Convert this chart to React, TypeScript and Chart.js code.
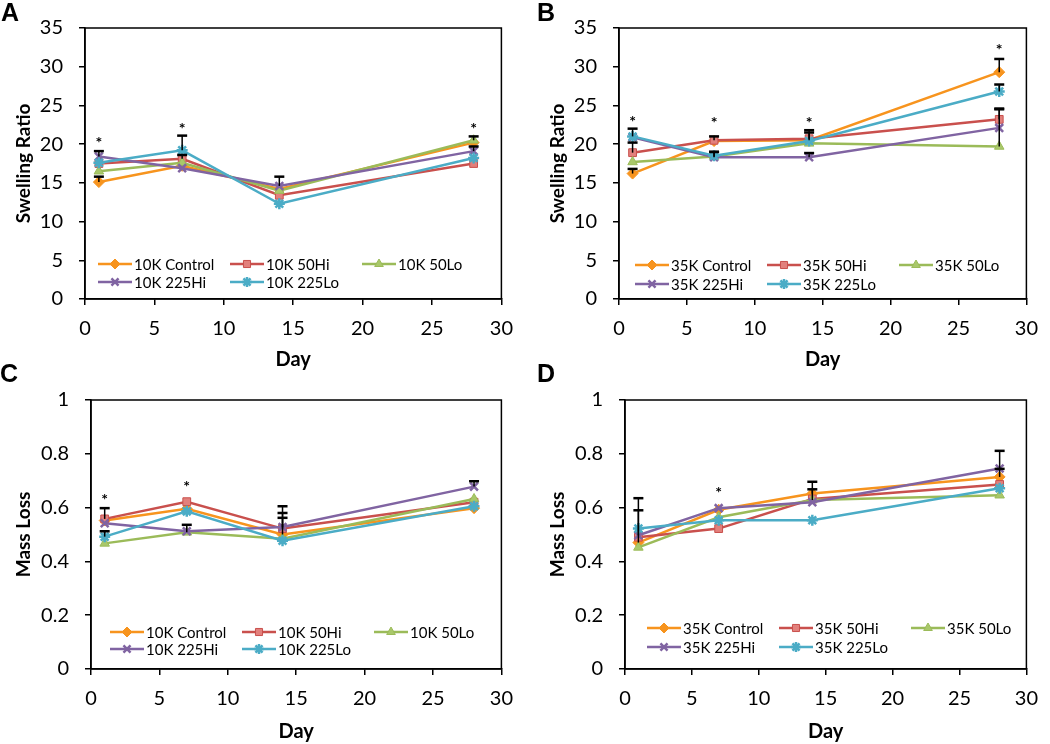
import React, { useEffect, useRef } from "react";
import { Chart, registerables } from "chart.js";
import { drawPoint } from "chart.js/helpers";

Chart.register(...registerables);

// ---------- shared ----------
const days = [1, 7, 14, 28];
const groups = ["Control", "50Hi", "50Lo", "225Hi", "225Lo"];
const names10K = groups.map((g) => "10K " + g);
const names35K = groups.map((g) => "35K " + g);
const xTickStep = 5;

// ---------- Panel A: Swelling ratio, 10K ----------
const swell10Control = [15.1, 17.2, 14.2, 20.2];
const swell10Hi50 = [17.5, 18.1, 13.4, 17.5];
const swell10Lo50 = [16.5, 17.6, 14.0, 20.5];
const swell10Hi225 = [18.4, 16.9, 14.6, 19.1];
const swell10Lo225 = [17.6, 19.2, 12.3, 18.2];
const swell10ControlErr = [0.7, 0, 0, 0];
const swell10Hi50Err = [0, 0.5, 0, 0];
const swell10Lo50Err = [0, 0, 0, 0.5];
const swell10Hi225Err = [0.7, 0, 1.2, 0.6];
const swell10Lo225Err = [0, 1.9, 0, 0];
const starDaysA = [1, 7, 28];
const starValsA = [20.5, 22.4, 22.4];

// ---------- Panel B: Swelling ratio, 35K ----------
const swell35Control = [16.2, 20.4, 20.5, 29.3];
const swell35Hi50 = [18.9, 20.5, 20.7, 23.2];
const swell35Lo50 = [17.7, 18.4, 20.1, 19.7];
const swell35Hi225 = [20.9, 18.3, 18.3, 22.1];
const swell35Lo225 = [21.0, 18.5, 20.4, 26.8];
const swell35ControlErr = [0.6, 0, 1.0, 1.7];
const swell35Hi50Err = [1.3, 0.5, 1.1, 1.4];
const swell35Lo50Err = [0, 0.6, 0, 4.8];
const swell35Hi225Err = [0, 0.7, 0.55, 0];
const swell35Lo225Err = [1.0, 0, 0, 0.9];
const starDaysB = [1, 7, 14, 28];
const starValsB = [23.3, 23.1, 23.2, 32.6];

// ---------- Panel C: Mass loss, 10K ----------
const mass10Control = [0.552, 0.596, 0.5, 0.598];
const mass10Hi50 = [0.558, 0.622, 0.522, 0.62];
const mass10Lo50 = [0.467, 0.508, 0.484, 0.632];
const mass10Hi225 = [0.542, 0.512, 0.528, 0.678];
const mass10Lo225 = [0.492, 0.586, 0.477, 0.605];
const mass10ControlErr = [0, 0, 0.08, 0];
const mass10Hi50Err = [0.04, 0, 0.04, 0];
const mass10Lo50Err = [0, 0.028, 0, 0];
const mass10Hi225Err = [0, 0, 0.077, 0.02];
const mass10Lo225Err = [0.02, 0, 0, 0];
const starDaysC = [1, 7];
const starValsC = [0.641, 0.689];

// ---------- Panel D: Mass loss, 35K ----------
const mass35Control = [0.47, 0.592, 0.652, 0.714];
const mass35Hi50 = [0.49, 0.522, 0.632, 0.686];
const mass35Lo50 = [0.452, 0.564, 0.628, 0.646];
const mass35Hi225 = [0.497, 0.598, 0.62, 0.745];
const mass35Lo225 = [0.522, 0.553, 0.553, 0.672];
const mass35ControlErr = [0.12, 0, 0.044, 0.03];
const mass35Hi50Err = [0, 0, 0, 0];
const mass35Lo50Err = [0, 0, 0.04, 0];
const mass35Hi225Err = [0.138, 0, 0, 0.066];
const mass35Lo225Err = [0, 0, 0, 0];
const starDaysD = [7];
const starValsD = [0.665];

// ---------- styles ----------
const lineColors = ["#F7941E", "#C9504D", "#9BBB59", "#8064A2", "#4BACC6"];
const fillColors = ["#F7941E", "#E2807C", "#A9C86A", "#8F74B0", "#5DB8D0"];
const pointStyles = ["rectRot", "rect", "triangle", "crossRot", "star"];
const FONT = "Lato, 'Open Sans', sans-serif";

type PanelCfg = {
  left: number;
  top: number;
  series: number[][];
  errors: number[][];
  names: string[];
  starDays: number[];
  starVals: number[];
  yMax: number;
  yStep: number;
  yTitle: string;
  yAxisWidth: number;
  yTitlePad: number;
  padTop: number;
  padRight: number;
  xAxisHeight: number;
  legendX: number;
  legendRows: number[];
};

const W = 525;
const H = 372;

const panels: PanelCfg[] = [
  {
    left: 0, top: 0,
    series: [swell10Control, swell10Hi50, swell10Lo50, swell10Hi225, swell10Lo225],
    errors: [swell10ControlErr, swell10Hi50Err, swell10Lo50Err, swell10Hi225Err, swell10Lo225Err],
    names: names10K, starDays: starDaysA, starVals: starValsA,
    yMax: 35, yStep: 5, yTitle: "Swelling Ratio",
    yAxisWidth: 85, yTitlePad: 12, padTop: 23, padRight: 23, xAxisHeight: 73,
    legendX: 13, legendRows: [35, 17],
  },
  {
    left: 525, top: 0,
    series: [swell35Control, swell35Hi50, swell35Lo50, swell35Hi225, swell35Lo225],
    errors: [swell35ControlErr, swell35Hi50Err, swell35Lo50Err, swell35Hi225Err, swell35Lo225Err],
    names: names35K, starDays: starDaysB, starVals: starValsB,
    yMax: 35, yStep: 5, yTitle: "Swelling Ratio",
    yAxisWidth: 94, yTitlePad: 21, padTop: 23, padRight: 19, xAxisHeight: 73,
    legendX: 16, legendRows: [34, 15],
  },
  {
    left: 0, top: 372,
    series: [mass10Control, mass10Hi50, mass10Lo50, mass10Hi225, mass10Lo225],
    errors: [mass10ControlErr, mass10Hi50Err, mass10Lo50Err, mass10Hi225Err, mass10Lo225Err],
    names: names10K, starDays: starDaysC, starVals: starValsC,
    yMax: 1, yStep: 0.2, yTitle: "Mass Loss",
    yAxisWidth: 91, yTitlePad: 12, padTop: 19, padRight: 23, xAxisHeight: 75,
    legendX: 19, legendRows: [37, 20],
  },
  {
    left: 525, top: 372,
    series: [mass35Control, mass35Hi50, mass35Lo50, mass35Hi225, mass35Lo225],
    errors: [mass35ControlErr, mass35Hi50Err, mass35Lo50Err, mass35Hi225Err, mass35Lo225Err],
    names: names35K, starDays: starDaysD, starVals: starValsD,
    yMax: 1, yStep: 0.2, yTitle: "Mass Loss",
    yAxisWidth: 100, yTitlePad: 21, padTop: 19, padRight: 19, xAxisHeight: 75,
    legendX: 22, legendRows: [41, 22],
  },
];

const letters = [
  { t: "A", x: 1, y: 0 },
  { t: "B", x: 537, y: 0 },
  { t: "C", x: 0, y: 361 },
  { t: "D", x: 537, y: 361 },
];

function makeExtras(p: PanelCfg) {
  return {
    id: "panelExtras",
    beforeDatasetsDraw(chart: any) {
      const { ctx, chartArea } = chart;
      ctx.save();
      ctx.strokeStyle = "#000";
      ctx.lineWidth = 1.5;
      ctx.strokeRect(chartArea.left, chartArea.top, chartArea.right - chartArea.left, chartArea.bottom - chartArea.top);
      ctx.restore();
    },
    afterDatasetsDraw(chart: any) {
      const { ctx, chartArea, scales } = chart;
      const xs = scales.x;
      const ys = scales.y;
      ctx.save();
      // error bars (plus only)
      ctx.strokeStyle = "#000";
      p.series.forEach((vals, si) => {
        vals.forEach((v, i) => {
          const e = p.errors[si][i];
          if (!e) return;
          const x = xs.getPixelForValue(days[i]);
          const y0 = ys.getPixelForValue(v);
          const y1 = ys.getPixelForValue(v + e);
          ctx.lineWidth = 1.5;
          ctx.beginPath();
          ctx.moveTo(x, y0);
          ctx.lineTo(x, y1);
          ctx.stroke();
          ctx.lineWidth = 2.5;
          ctx.beginPath();
          ctx.moveTo(x - 5, y1);
          ctx.lineTo(x + 5, y1);
          ctx.stroke();
        });
      });
      // significance stars
      ctx.fillStyle = "#000";
      ctx.font = "bold 16px " + FONT;
      ctx.textAlign = "center";
      ctx.textBaseline = "middle";
      p.starDays.forEach((d, i) => {
        ctx.fillText("*", xs.getPixelForValue(d), ys.getPixelForValue(p.starVals[i]) + 3);
      });
      // legend
      const colW = 132;
      chart.data.datasets.forEach((ds: any, i: number) => {
        const row = Math.floor(i / 3);
        const col = i % 3;
        const x0 = chartArea.left + p.legendX + col * colW;
        const y = chartArea.bottom - p.legendRows[row];
        ctx.strokeStyle = ds.borderColor;
        ctx.lineWidth = 2.5;
        ctx.beginPath();
        ctx.moveTo(x0, y);
        ctx.lineTo(x0 + 34, y);
        ctx.stroke();
        ctx.fillStyle = ds.pointBackgroundColor;
        ctx.strokeStyle = ds.pointBorderColor;
        ctx.lineWidth = ds.pointBorderWidth;
        drawPoint(ctx, { pointStyle: ds.pointStyle, radius: 5, rotation: 0, borderWidth: ds.pointBorderWidth }, x0 + 17, y);
        ctx.fillStyle = "#000";
        ctx.font = "15px " + FONT;
        ctx.textAlign = "left";
        ctx.textBaseline = "middle";
        ctx.fillText(ds.label, x0 + 36, y + 1);
      });
      ctx.restore();
    },
  };
}

function fmtTick(v: any) {
  return String(Number(Number(v).toFixed(2)));
}

function Panel({ p }: { p: PanelCfg }) {
  const ref = useRef<HTMLCanvasElement | null>(null);
  useEffect(() => {
    if (!ref.current) return;
    const datasets = p.series.map((vals, i) => {
      const thin = pointStyles[i] === "crossRot" || pointStyles[i] === "star";
      return {
        label: p.names[i],
        data: days.map((d, k) => ({ x: d, y: vals[k] })),
        borderColor: lineColors[i],
        backgroundColor: fillColors[i],
        borderWidth: 2.5,
        pointStyle: pointStyles[i],
        pointRadius: 5.5,
        pointBackgroundColor: fillColors[i],
        pointBorderColor: lineColors[i],
        pointBorderWidth: thin ? 2.5 : 1,
        tension: 0,
        fill: false,
        order: 5 - i,
      };
    });
    const chart = new Chart(ref.current, {
      type: "line",
      data: { datasets },
      plugins: [makeExtras(p)],
      options: {
        animation: false,
        responsive: false,
        devicePixelRatio: 1,
        layout: { padding: { top: p.padTop, right: p.padRight, left: 0, bottom: 0 } },
        plugins: { legend: { display: false }, tooltip: { enabled: false } },
        scales: {
          x: {
            type: "linear",
            min: 0,
            max: 30,
            afterFit: (s: any) => { s.height = p.xAxisHeight; },
            ticks: { stepSize: xTickStep, color: "#000", font: { family: FONT, size: 20 }, padding: 12, maxRotation: 0 },
            grid: { display: true, drawOnChartArea: false, drawTicks: true, tickLength: 6, color: "#000", lineWidth: 1.5 },
            border: { display: true, color: "#000", width: 1.5 },
            title: { display: true, text: "Day", color: "#000", font: { family: FONT, size: 20, weight: "bold" }, padding: { top: 0, bottom: 0 } },
          },
          y: {
            type: "linear",
            min: 0,
            max: p.yMax,
            afterFit: (s: any) => { s.width = p.yAxisWidth; },
            ticks: { stepSize: p.yStep, color: "#000", font: { family: FONT, size: 20 }, padding: 16, callback: fmtTick },
            grid: { display: true, drawOnChartArea: false, drawTicks: true, tickLength: 6, color: "#000", lineWidth: 1.5 },
            border: { display: true, color: "#000", width: 1.5 },
            title: { display: true, text: p.yTitle, color: "#000", font: { family: FONT, size: 19, weight: "bold" }, padding: { top: p.yTitlePad, bottom: 0 } },
          },
        },
      } as any,
    } as any);
    return () => chart.destroy();
  }, []);
  return (
    <canvas
      ref={ref}
      width={W}
      height={H}
      style={{ position: "absolute", left: p.left, top: p.top, width: W, height: H }}
    />
  );
}

export default function App() {
  return (
    <div style={{ position: "absolute", left: 0, top: 0, width: 1050, height: 744, background: "#fff", overflow: "hidden" }}>
      {panels.map((p, i) => (
        <Panel key={i} p={p} />
      ))}
      {letters.map((l) => (
        <div
          key={l.t}
          style={{
            position: "absolute",
            left: l.x,
            top: l.y,
            fontFamily: "'Liberation Sans', Arial, sans-serif",
            fontWeight: "bold",
            fontSize: 25,
            lineHeight: "25px",
            color: "#000",
          }}
        >
          {l.t}
        </div>
      ))}
    </div>
  );
}
